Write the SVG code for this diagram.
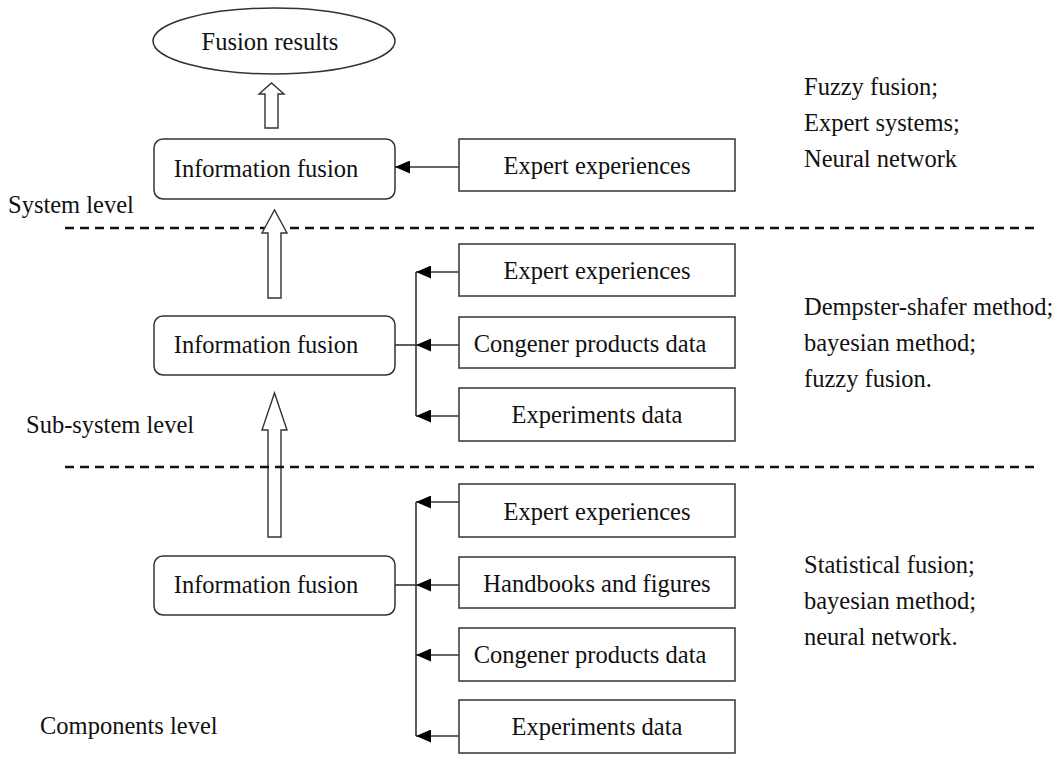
<svg xmlns="http://www.w3.org/2000/svg" width="1061" height="769" viewBox="0 0 1061 769">
<style>
text{font-family:"Liberation Serif","Times New Roman",serif;font-size:24.5px;fill:#111}
.c{text-anchor:middle}
.box{fill:#fff;stroke:#333;stroke-width:1.5}
.rbox{fill:#fff;stroke:#333;stroke-width:1.5}
.ln{fill:none;stroke:#333;stroke-width:1.6}
.dash{fill:none;stroke:#111;stroke-width:2.5;stroke-dasharray:9 6}
.barrow{fill:#fff;stroke:#333;stroke-width:1.4}
</style>
<defs>
<marker id="ah" viewBox="0 0 15 13" refX="15" refY="6.5" markerWidth="15" markerHeight="13" markerUnits="userSpaceOnUse" orient="auto">
<path d="M0,0 L15,6.5 L0,13 Z" fill="#000"/>
</marker>
</defs>
<rect width="1061" height="769" fill="#fff"/>

<g id="dashes">
<line class="dash" x1="65" y1="228" x2="1040" y2="228"/>
</g>

<g id="block-arrows">
<path class="barrow" d="M265,128 L265,94 L259,94 L271.5,83 L284,94 L278,94 L278,128 Z"/>
<path class="barrow" d="M268,298 L268,233 L262,233 L274.5,210 L287,233 L281,233 L281,298 Z"/>
<path class="barrow" d="M268,537 L268,430 L262,430 L274.5,393 L287,430 L281,430 L281,537 Z"/>
</g>

<g id="dashes2">
<line class="dash" x1="65" y1="467" x2="1040" y2="467"/>
</g>

<g id="fusion-results">
<ellipse cx="274" cy="41" rx="121" ry="33" class="box"/>
<text x="270" y="50" class="c">Fusion results</text>
</g>

<g id="if-system">
<rect x="154" y="139" width="241" height="60" rx="9" class="rbox"/>
<text x="266" y="177" class="c">Information fusion</text>
</g>
<g id="if-subsystem">
<rect x="154" y="316" width="241" height="59" rx="9" class="rbox"/>
<text x="266" y="353" class="c">Information fusion</text>
</g>
<g id="if-components">
<rect x="154" y="556" width="241" height="59" rx="9" class="rbox"/>
<text x="266" y="593" class="c">Information fusion</text>
</g>

<g id="sys-expert">
<rect x="459" y="139" width="276" height="52" class="box"/>
<text x="597" y="174" class="c">Expert experiences</text>
</g>

<g id="sub-expert">
<rect x="459" y="244" width="276" height="52" class="box"/>
<text x="597" y="279" class="c">Expert experiences</text>
</g>
<g id="sub-congener">
<rect x="459" y="317" width="276" height="51" class="box"/>
<text x="590" y="352" class="c">Congener products data</text>
</g>
<g id="sub-experiments">
<rect x="459" y="388" width="276" height="53" class="box"/>
<text x="597" y="423" class="c">Experiments data</text>
</g>

<g id="comp-expert">
<rect x="459" y="484" width="276" height="53" class="box"/>
<text x="597" y="520" class="c">Expert experiences</text>
</g>
<g id="comp-handbooks">
<rect x="459" y="557" width="276" height="51" class="box"/>
<text x="597" y="592" class="c">Handbooks and figures</text>
</g>
<g id="comp-congener">
<rect x="459" y="628" width="276" height="53" class="box"/>
<text x="590" y="663" class="c">Congener products data</text>
</g>
<g id="comp-experiments">
<rect x="459" y="700" width="276" height="53" class="box"/>
<text x="597" y="735" class="c">Experiments data</text>
</g>

<g id="connectors">
<line class="ln" x1="459" y1="167" x2="395" y2="167" marker-end="url(#ah)"/>

<line class="ln" x1="395" y1="345" x2="416" y2="345"/>
<line class="ln" x1="416" y1="272" x2="416" y2="416"/>
<line class="ln" x1="459" y1="272" x2="416" y2="272" marker-end="url(#ah)"/>
<line class="ln" x1="459" y1="345" x2="416" y2="345" marker-end="url(#ah)"/>
<line class="ln" x1="459" y1="416" x2="416" y2="416" marker-end="url(#ah)"/>

<line class="ln" x1="395" y1="585" x2="416" y2="585"/>
<line class="ln" x1="416" y1="502" x2="416" y2="736"/>
<line class="ln" x1="459" y1="502" x2="416" y2="502" marker-end="url(#ah)"/>
<line class="ln" x1="459" y1="585" x2="416" y2="585" marker-end="url(#ah)"/>
<line class="ln" x1="459" y1="655" x2="416" y2="655" marker-end="url(#ah)"/>
<line class="ln" x1="459" y1="736" x2="416" y2="736" marker-end="url(#ah)"/>
</g>

<g id="labels">
<text x="8" y="213">System level</text>
<text x="26" y="433">Sub-system level</text>
<text x="40" y="734">Components level</text>
<text x="804" y="95">Fuzzy fusion;</text>
<text x="804" y="131">Expert systems;</text>
<text x="804" y="167">Neural network</text>
<text x="804" y="315">Dempster-shafer method;</text>
<text x="804" y="351">bayesian method;</text>
<text x="804" y="387">fuzzy fusion.</text>
<text x="804" y="573">Statistical fusion;</text>
<text x="804" y="609">bayesian method;</text>
<text x="804" y="645">neural network.</text>
</g>
</svg>
